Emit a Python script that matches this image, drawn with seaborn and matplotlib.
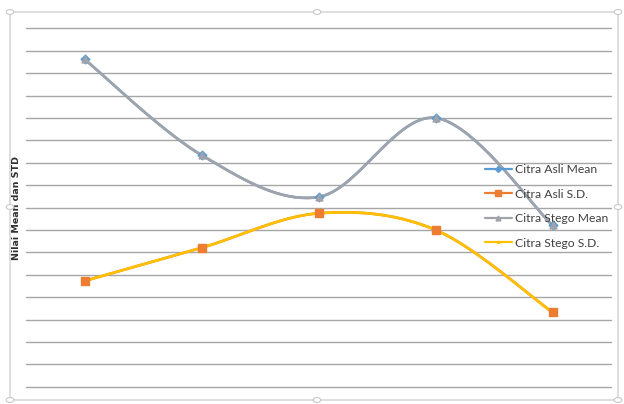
import numpy as np
import pandas as pd
import matplotlib
matplotlib.use("Agg")
import matplotlib.pyplot as plt
from matplotlib.patches import FancyBboxPatch, Circle
from matplotlib.lines import Line2D
import seaborn as sns

# Data: five test images, mean and standard deviation of pixel values
images = ["1", "2", "3", "4", "5"]
asli_mean = [146.2, 103.4, 84.7, 120.0, 72.0]
asli_sd = [47.2, 62.0, 77.4, 70.0, 33.2]
stego_mean = [146.2, 103.4, 84.7, 120.0, 72.0]
stego_sd = [47.2, 62.0, 77.4, 70.0, 33.2]
series_names = ["Citra Asli Mean", "Citra Asli S.D.", "Citra Stego Mean", "Citra Stego S.D."]
y_label = "Nilai Mean dan STD"

sns.set_theme(style="white")
plt.rcParams["font.family"] = ["Lato", "DejaVu Sans"]

colors = ["#5B9BD5", "#ED7D31", "#A0A4AA", "#FFC000"]
markers = ["D", "s", "^", "x"]
msizes = [4, 5, 4.5, 3]
mzorder = [4, 5, 6, 3.5]


def smooth_curve(xs, ys, steps=40):
    """Spreadsheet-style smoothed line: cubic Bezier segments through points."""
    xs = np.asarray(xs, float)
    ys = np.asarray(ys, float)
    n = len(xs)
    px = np.concatenate([[xs[0]], xs, [xs[-1]]])
    py = np.concatenate([[ys[0]], ys, [ys[-1]]])
    out_x, out_y = [], []
    t = np.linspace(0, 1, steps)
    for i in range(n - 1):
        p0 = np.array([px[i + 1], py[i + 1]])
        p3 = np.array([px[i + 2], py[i + 2]])
        p1 = p0 + (np.array([px[i + 2], py[i + 2]]) - np.array([px[i], py[i]])) / 6
        p2 = p3 - (np.array([px[i + 3], py[i + 3]]) - np.array([px[i + 1], py[i + 1]])) / 6
        b = ((1 - t) ** 3)[:, None] * p0 + (3 * (1 - t) ** 2 * t)[:, None] * p1 \
            + (3 * (1 - t) * t ** 2)[:, None] * p2 + (t ** 3)[:, None] * p3
        out_x.extend(b[:, 0])
        out_y.extend(b[:, 1])
    return np.array(out_x), np.array(out_y)


fig = plt.figure(figsize=(6.24, 4.04), dpi=100)
ax = fig.add_axes([26 / 624, 1 - 386.7 / 404, 585 / 624, (386.7 - 28.3) / 404])

xpos = np.arange(len(images))
all_series = [asli_mean, asli_sd, stego_mean, stego_sd]
handles = []
for name, vals, c, m, ms, mz in zip(series_names, all_series, colors, markers, msizes, mzorder):
    cx, cy = smooth_curve(xpos, vals)
    curve = pd.DataFrame({"x": cx, "y": cy})
    sns.lineplot(data=curve, x="x", y="y", ax=ax, color=c, lw=1.9, sort=False,
                 estimator=None, zorder=3)
    pts = pd.DataFrame({"x": xpos, "y": vals})
    sns.scatterplot(data=pts, x="x", y="y", ax=ax, color=c, marker=m, s=ms ** 2 * 1.2,
                    edgecolor=c, linewidth=1.0, zorder=mz)
    handles.append(Line2D([], [], color=c, lw=1.6, marker=m, markersize=ms - 1,
                          markeredgecolor=c))

ax.set_xlim(-0.5, 4.5)
ax.set_ylim(0, 160)
ax.set_yticks(np.arange(0, 161, 10))
ax.set_xticks([])
ax.yaxis.grid(True, color="#A6A6A6", lw=1.0)
for gl in ax.get_ygridlines():
    gl.set_clip_on(False)
ax.tick_params(left=False, labelleft=False, bottom=False, labelbottom=False)
for s in ax.spines.values():
    s.set_visible(False)
ax.set_xlabel("")
ax.set_ylabel("")

fig.text(17 / 624, 1 - 208 / 404, y_label, rotation=90, ha="center", va="center",
         fontsize=6.8, fontweight="bold", color="#303030", family=["DejaVu Sans"])

leg = ax.legend(handles, series_names, loc="upper left",
                bbox_to_anchor=(485 / 624, 1 - 164 / 404), bbox_transform=fig.transFigure,
                frameon=False, fontsize=8.7, handlelength=2.2, handletextpad=0.3,
                labelspacing=1.12, borderpad=0, borderaxespad=0)
for t in leg.get_texts():
    t.set_color("#404040")

# chart frame with selection handles
frame = FancyBboxPatch((10 / 624, 1 - 400 / 404), 608 / 624, 388 / 404,
                       boxstyle="round,pad=0,rounding_size=0.01", transform=fig.transFigure,
                       fill=False, edgecolor="#D0D0D0", lw=1.0, zorder=0)
fig.patches.append(frame)
for hx, hy in [(10, 12), (317, 12), (618, 12), (10, 207), (618, 207), (10, 400), (317, 400), (618, 400)]:
    fig.patches.append(Circle((hx / 624, 1 - hy / 404), 0.006, transform=fig.transFigure,
                              facecolor="white", edgecolor="#C8C8C8", lw=0.8, zorder=5))

fig.savefig("out.png", dpi=100)
